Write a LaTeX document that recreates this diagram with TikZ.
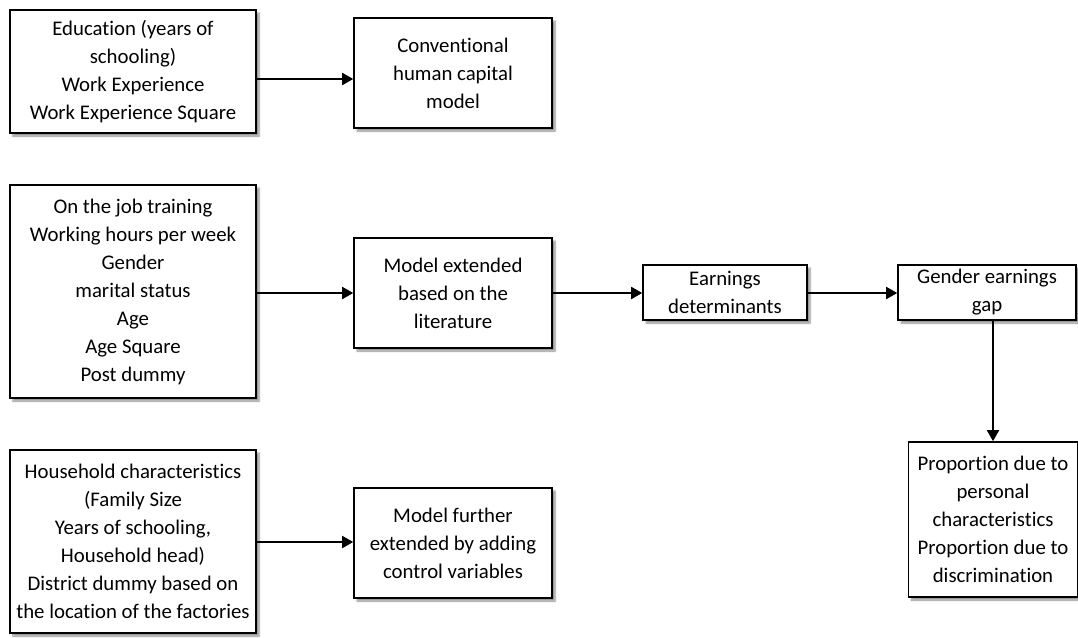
\documentclass[tikz,border=0pt]{standalone}
\usepackage{fontspec}
\setmainfont{Carlito}[Ligatures=NoCommon]
\usetikzlibrary{arrows.meta,shadows.blur}

\tikzset{
  box/.style={draw=black, line width=1.6pt, fill=white, inner sep=0pt,
    align=center, font=\fontsize{20.8pt}{28pt}\selectfont,
    blur shadow={shadow xshift=3pt, shadow yshift=-3pt, shadow blur steps=6, shadow opacity=45}},
  arr/.style={line width=1.8pt, -{Triangle[length=11pt, width=12pt]}}
}

\begin{document}
\begin{tikzpicture}[x=1pt, y=-1pt]
  \useasboundingbox (0,0) rectangle (1078,637);

  % input variable groups
  \node[box, minimum width=246pt, minimum height=123pt] (edu) at (133,71.5)
    {Education (years of\\schooling)\\Work Experience\\Work Experience Square};
  \node[box, minimum width=246pt, minimum height=213pt] (ext) at (133,291.5)
    {On the job training\\Working hours per week\\Gender\\marital status\\Age\\Age Square\\Post dummy};
  \node[box, minimum width=246pt, minimum height=183pt] (hh) at (133,541.5)
    {Household characteristics\\(Family Size\\Years of schooling,\\Household head)\\District dummy based on\\the location of the factories};

  % model specifications
  \node[box, minimum width=198pt, minimum height=110pt] (conv) at (453,73)
    {Conventional\\human capital\\model};
  \node[box, minimum width=198pt, minimum height=110pt] (lit) at (453,293)
    {Model extended\\based on the\\literature};
  \node[box, minimum width=198pt, minimum height=110pt] (ctrl) at (453,543)
    {Model further\\extended by adding\\control variables};

  % results
  \node[box, minimum width=164pt, minimum height=55pt] (earn) at (725,292.5)
    {Earnings\\determinants};
  \node[box, minimum width=178pt, minimum height=55pt] (gap) at (987,292.5)
    {Gender earnings\\gap};
  \node[box, minimum width=169pt, minimum height=155pt] (prop) at (993,519.5)
    {Proportion due to\\personal\\characteristics\\Proportion due to\\discrimination};

  % connectors
  \draw[arr] (edu.east |- 0,79) -- (conv.west |- 0,79);
  \draw[arr] (ext.east |- 0,293) -- (lit.west |- 0,293);
  \draw[arr] (hh.east |- 0,542) -- (ctrl.west |- 0,542);
  \draw[arr] (lit.east |- 0,293) -- (earn.west |- 0,293);
  \draw[arr] (earn.east |- 0,293) -- (gap.west |- 0,293);
  \draw[arr] (gap.south -| prop.north) -- (prop.north);
\end{tikzpicture}
\end{document}
